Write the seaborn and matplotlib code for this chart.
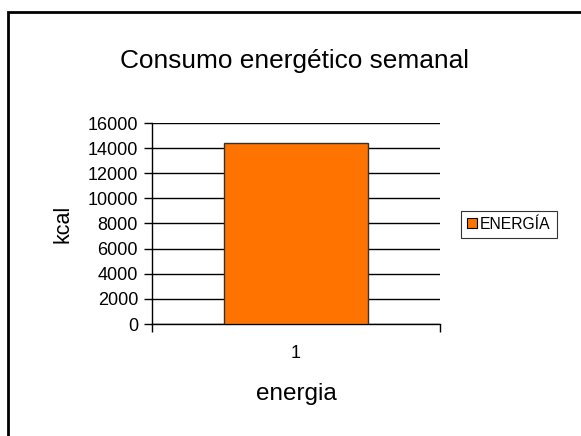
import matplotlib
matplotlib.use("Agg")
import matplotlib.pyplot as plt
import seaborn as sns
import pandas as pd
from matplotlib.patches import Rectangle, Patch

categories = ["1"]
values = [14400]
series_name = "ENERGÍA"
title = "Consumo energético semanal"
xlabel = "energia"
ylabel = "kcal"
yticks = [0, 2000, 4000, 6000, 8000, 10000, 12000, 14000, 16000]

sns.set_theme(style="white")
plt.rcParams['font.family'] = ['Liberation Sans', 'DejaVu Sans']
plt.rcParams['text.color'] = 'black'
plt.rcParams['axes.labelcolor'] = 'black'
plt.rcParams['xtick.color'] = 'black'
plt.rcParams['ytick.color'] = 'black'

W, H = 581, 436
fig = plt.figure(figsize=(W / 100, H / 100), dpi=100)
fig.patch.set_facecolor("white")

# outer chart border
fig.patches.append(Rectangle((8 / W, -0.05), 1.2, 1 - 12 / H + 0.05,
                             transform=fig.transFigure, fill=False,
                             edgecolor="black", linewidth=2.0, zorder=10))

ax = fig.add_axes([152 / W, 1 - 324 / H, (440 - 152) / W, (324 - 123) / H])
df = pd.DataFrame({"cat": categories, "val": values})
sns.barplot(data=df, x="cat", y="val", ax=ax, color="#FF7300", width=0.5,
            edgecolor="#333333", linewidth=1.0, saturation=1, zorder=3)

ax.set_xlim(-0.5, 0.5)
ax.set_ylim(0, 16000)
ax.set_yticks(yticks)
ax.set_yticklabels([str(v) for v in yticks], fontsize=13)
ax.yaxis.grid(True, color="black", linewidth=1.0, zorder=0)
ax.set_axisbelow(True)
ax.xaxis.grid(False)

# x ticks at category boundaries, label centered
ax.set_xticks([-0.5, 0.5])
ax.set_xticklabels([])
ax.set_xticks([0], minor=True)
ax.set_xticklabels(categories, minor=True, fontsize=13)
ax.tick_params(axis="x", which="minor", length=0, pad=15)
ax.tick_params(axis="x", which="major", length=6, width=1, color="black", direction="out", bottom=True)
ax.tick_params(axis="y", length=6, width=1, color="black", direction="out", left=True, pad=4)

for s in ["top", "right"]:
    ax.spines[s].set_visible(False)
for s in ["left", "bottom"]:
    ax.spines[s].set_color("black")
    ax.spines[s].set_linewidth(1.0)

ax.set_xlabel(xlabel, fontsize=17.5, labelpad=15)
ax.set_ylabel(ylabel, fontsize=15.5, labelpad=10)

fig.text(295 / W, 1 - 61 / H, title, ha="center", va="center", fontsize=18.9)

handles = [Patch(facecolor="#FF7300", edgecolor="black", linewidth=0.8, label=series_name)]
leg = fig.legend(handles=handles, loc="center", bbox_to_anchor=(509 / W, 1 - 224.5 / H),
                 fontsize=11.3, frameon=True, fancybox=False, handlelength=0.6,
                 handleheight=0.6, handletextpad=0.2, borderpad=0.4, borderaxespad=0)
leg.get_frame().set_edgecolor("black")
leg.get_frame().set_linewidth(0.8)

fig.savefig("out.png", dpi=100, facecolor="white")
